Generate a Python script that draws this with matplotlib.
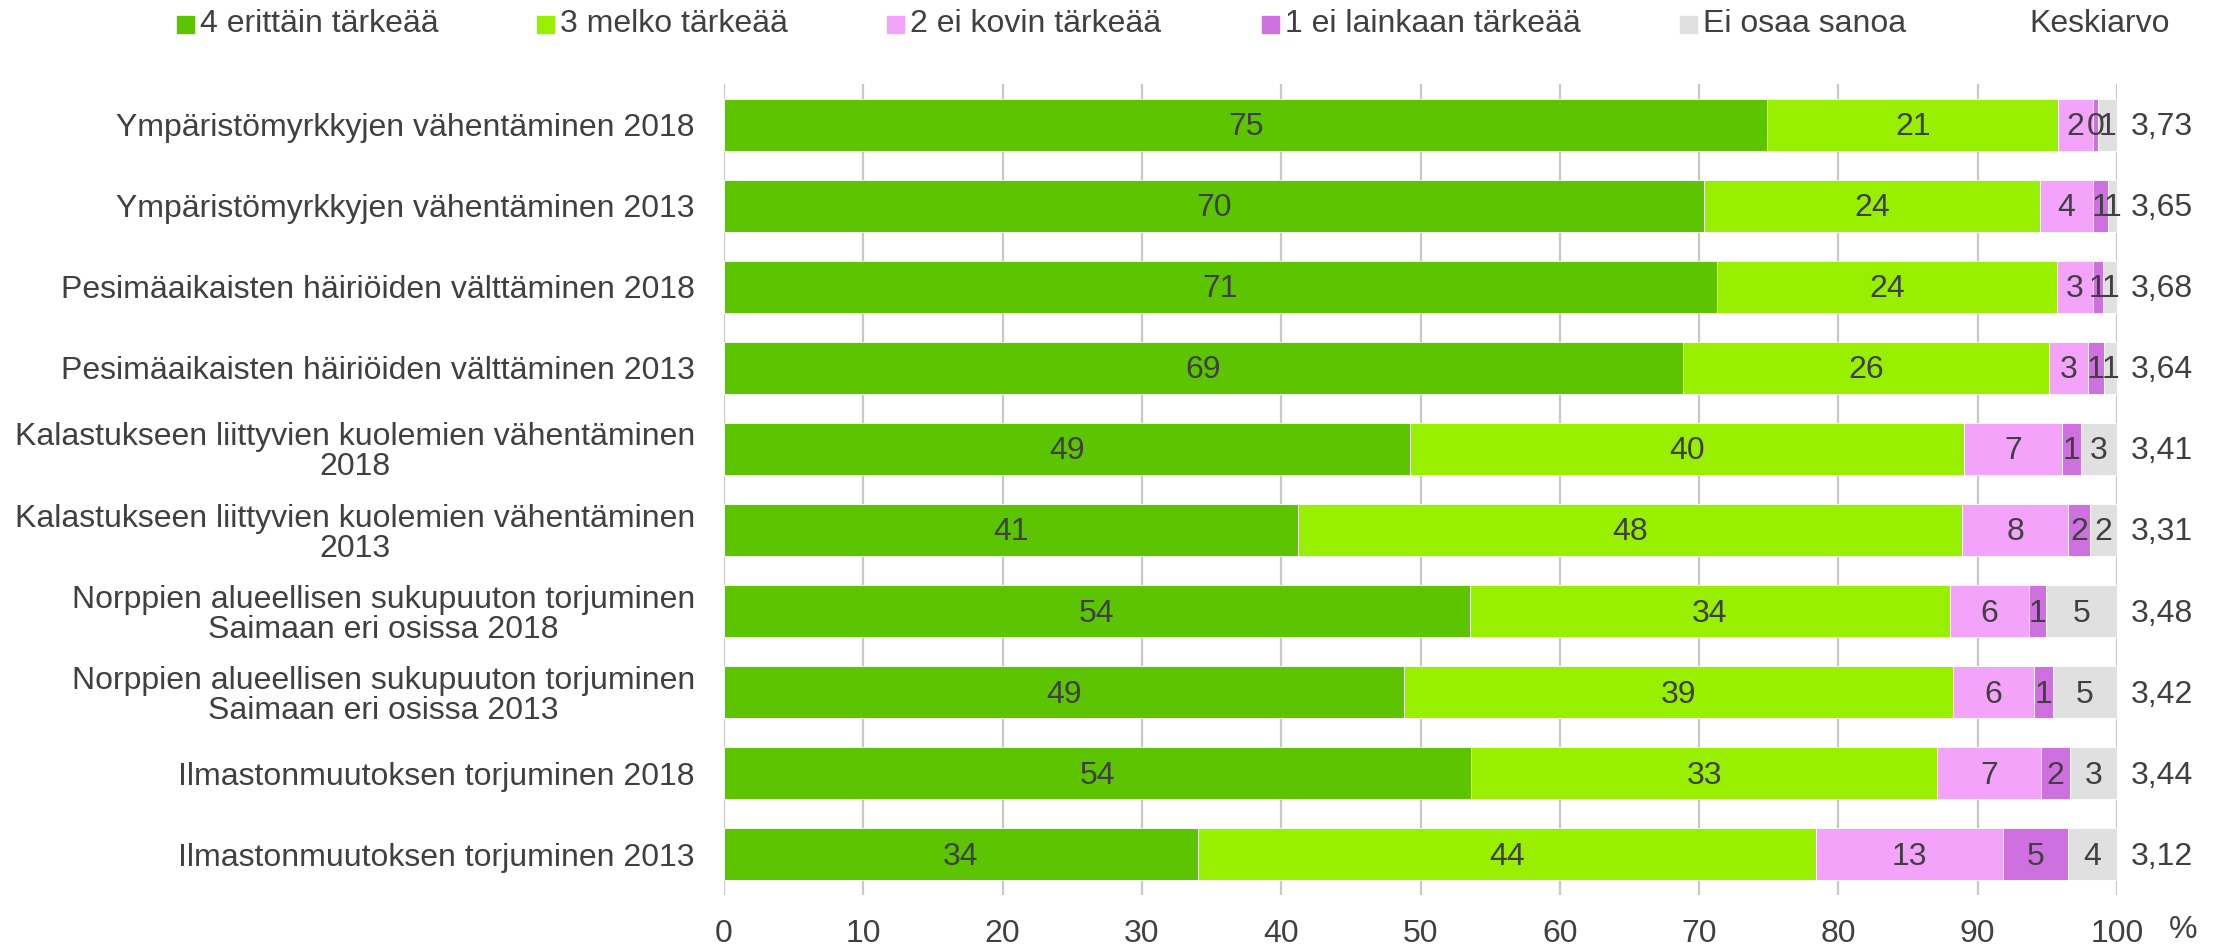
import matplotlib.pyplot as plt
from matplotlib.patches import Rectangle

plt.rcParams['font.family'] = ['Liberation Sans', 'DejaVu Sans']

# data
categories = [
    "Ympäristömyrkkyjen vähentäminen 2018",
    "Ympäristömyrkkyjen vähentäminen 2013",
    "Pesimäaikaisten häiriöiden välttäminen 2018",
    "Pesimäaikaisten häiriöiden välttäminen 2013",
    "Kalastukseen liittyvien kuolemien vähentäminen\n2018",
    "Kalastukseen liittyvien kuolemien vähentäminen\n2013",
    "Norppien alueellisen sukupuuton torjuminen\nSaimaan eri osissa 2018",
    "Norppien alueellisen sukupuuton torjuminen\nSaimaan eri osissa 2013",
    "Ilmastonmuutoksen torjuminen 2018",
    "Ilmastonmuutoksen torjuminen 2013",
]
series_names = ["4 erittäin tärkeää", "3 melko tärkeää", "2 ei kovin tärkeää",
                "1 ei lainkaan tärkeää", "Ei osaa sanoa"]
very = [74.9, 70.35, 71.3, 68.85, 49.25, 41.2, 53.55, 48.8, 53.65, 34.0]
fairly = [20.9, 24.1, 24.4, 26.3, 39.75, 47.7, 34.45, 39.4, 33.45, 44.4]
not_very = [2.45, 3.8, 2.55, 2.75, 7.05, 7.6, 5.7, 5.85, 7.45, 13.45]
not_at_all = [0.4, 1.1, 0.75, 1.15, 1.35, 1.56, 1.2, 1.35, 2.1, 4.6]
dont_know = [1.35, 0.65, 1.0, 0.95, 2.6, 1.94, 5.1, 4.6, 3.35, 3.55]
means = [3.73, 3.65, 3.68, 3.64, 3.41, 3.31, 3.48, 3.42, 3.44, 3.12]
xticks = list(range(0, 101, 10))

colors = ["#5CC400", "#98F000", "#F4A3FA", "#CF70E0", "#E0E0E0"]
txt = "#404040"
fs = 23

W, H = 2224, 951
fig = plt.figure(figsize=(W / 100, H / 100), dpi=100)
ax = fig.add_axes([724 / W, 1 - 895 / H, 1393 / W, 811 / H])

rows = list(range(len(categories)))
left = [0.0] * len(rows)
for vals, col in zip([very, fairly, not_very, not_at_all, dont_know], colors):
    ax.barh(rows, vals, left=left, height=0.64, color=col,
            edgecolor="white", linewidth=0.6, zorder=3)
    for r, v, l in zip(rows, vals, left):
        ax.text(l + v / 2, r + 0.03, f"{v:.0f}", ha="center", va="center",
                fontsize=fs, color=txt, zorder=4)
    left = [a + b for a, b in zip(left, vals)]

# mean column on the right
for r, m in zip(rows, means):
    ax.text(101.0, r + 0.03, f"{m:.2f}".replace(".", ","), ha="left", va="center",
            fontsize=fs, color=txt, clip_on=False)

ax.set_xlim(0, 100)
ax.set_ylim(len(rows) - 0.5, -0.5)
ax.set_xticks(xticks)
ax.set_yticks(rows)
ax.set_yticklabels(categories, multialignment="center", linespacing=1.0)
ax.tick_params(axis="y", length=0, pad=21, labelsize=fs, labelcolor=txt)
ax.tick_params(axis="x", length=0, pad=17, labelsize=fs, labelcolor=txt)
ax.grid(axis="x", color="#C8C8C8", linewidth=1.6, zorder=0)
ax.set_axisbelow(True)
for s in ax.spines.values():
    s.set_visible(False)

fig.text(2183 / W, 1 - 930 / H, "%", ha="center", va="center",
         fontsize=fs, color=txt)

# legend laid out as in the reference
sq_x = [177, 537, 887, 1262, 1680]
ly = 1 - 24 / H
for x0, name, col in zip(sq_x, series_names, colors):
    fig.patches.append(Rectangle((x0 / W, ly - 8.5 / H), 17 / W, 17 / H,
                                 color=col, transform=fig.transFigure))
    fig.text((x0 + 23) / W, ly, name, ha="left", va="center",
             fontsize=fs, color=txt)
fig.text(2029 / W, ly, "Keskiarvo", ha="left", va="center", fontsize=fs, color=txt)

fig.savefig("out.png", dpi=100)
